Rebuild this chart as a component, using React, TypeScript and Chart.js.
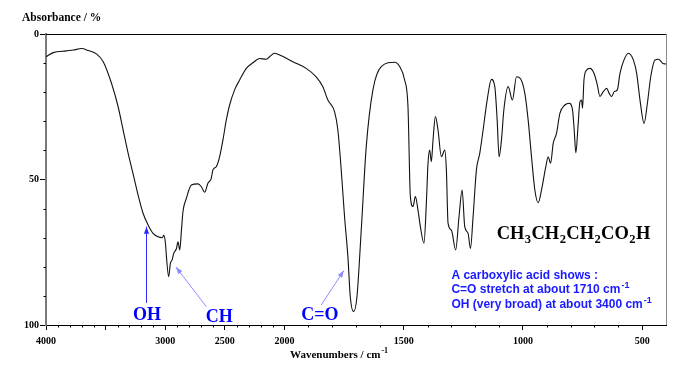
import React, { useEffect, useRef } from 'react';
import { Chart, LinearScale, registerables } from 'chart.js';

// ---------- data ----------
const WAVENUMBERS = [
  4000, 3940, 3830, 3770, 3700, 3645, 3575, 3520, 3450, 3395, 3353, 3311, 3270, 3228, 3186, 3144,
  3102, 3060, 3025, 3012, 2998, 2990, 2971, 2957, 2943, 2929, 2906, 2893, 2878, 2864, 2851, 2823,
  2781, 2725, 2697, 2669, 2642, 2614, 2600, 2572, 2544, 2516, 2488, 2460, 2418, 2376, 2320, 2265,
  2209, 2153, 2125, 2083, 2041, 2021, 1965, 1909, 1867, 1839, 1818, 1790, 1776, 1762, 1748, 1734,
  1724, 1710, 1696, 1678, 1657, 1629, 1594, 1538, 1517, 1496, 1482, 1472, 1461, 1451, 1440, 1430,
  1415, 1405, 1398, 1391, 1384, 1377, 1367, 1356, 1342, 1328, 1321, 1314, 1300, 1282, 1268, 1255,
  1244, 1230, 1220, 1209, 1195, 1181, 1167, 1150, 1132, 1118, 1108, 1100, 1090, 1080, 1062, 1044,
  1027, 1010, 992, 978, 964, 950, 936, 922, 904, 894, 884, 873, 859, 845, 824, 806,
  792, 785, 778, 769, 761, 754, 750, 744, 733, 719, 702, 688, 677, 663, 649, 638,
  628, 617, 604, 593, 576, 558, 537, 523, 509, 492, 478, 464, 446, 432, 413, 400,
];
const ABSORBANCE = [
  7.8, 6.4, 5.8, 5.5, 5.0, 5.7, 6.9, 9.5, 17, 25, 33, 41, 48, 55.3, 61.6, 65.6,
  68.5, 69.7, 70.0, 69.2, 72, 76.5, 83.4, 78.8, 77.7, 75.4, 73.7, 71.4, 74.2, 67.4, 61, 56.5,
  51.9, 51.5, 52.5, 54.4, 51.3, 49.6, 46.7, 45.6, 42.2, 36.4, 29.6, 24.4, 19.2, 15.8, 11.8, 9.9,
  8.4, 8.7, 7.8, 6.6, 7.2, 7.6, 9.5, 11.8, 14.7, 18.1, 22.7, 26.7, 33, 46.7, 62.8, 76.5,
  90.3, 95.4, 90.3, 67.4, 38.7, 19.2, 11.2, 9.7, 11.2, 15.8, 25, 55.9, 59.3, 55.9, 60.5, 66.2,
  71.9, 58.2, 44.4, 39.9, 43.9, 36.4, 28.4, 33, 42.2, 39.9, 46.7, 65, 67.4, 74.2, 62.8, 53.6,
  66.2, 68.5, 73.7, 62.8, 46.7, 41, 33, 22.7, 15.6, 18.1, 29.6, 42.2, 36.4, 26.1, 18.1, 22.7,
  14.7, 15.4, 20.4, 29.6, 42.2, 53.6, 58, 53.6, 45.6, 42.2, 44.4, 37.6, 34.1, 27.3, 24.4, 23.8,
  26.1, 33, 40.8, 31.8, 23.3, 22.7, 25.5, 15.8, 12.4, 11.8, 13.5, 17.5, 21.5, 19.8, 18.7, 20.4,
  21.5, 19.8, 19.2, 13.5, 8.9, 6.6, 8.9, 13.5, 22.7, 30.7, 23.8, 14.7, 8.9, 8.7, 10.1, 10.3,
];

const X_MAJOR_TICKS = [4000, 3500, 3000, 2500, 2000, 1500, 1000, 500];
const X_TICK_LABELS = [4000, 3000, 2500, 2000, 1500, 1000, 500];
const Y_TICK_LABELS = [0, 50, 100];

const W_MAX = 4000;
const W_MIN = 400;
const W_BREAK = 2000; // scale doubles below 2000 cm-1

// ---------- broken (two-scale) wavenumber axis ----------
const SPAN = (W_MAX - W_BREAK) / 2 + (W_BREAK - W_MIN);
function warp(w: number) {
  const t = w >= W_BREAK ? (W_MAX - w) / 2 : (W_MAX - W_BREAK) / 2 + (W_BREAK - w);
  return t / SPAN;
}
function unwarp(f: number) {
  const t = f * SPAN;
  const tb = (W_MAX - W_BREAK) / 2;
  return t <= tb ? W_MAX - 2 * t : W_BREAK - (t - tb);
}

class WavenumberScale extends LinearScale {
  static id = 'wavenumber';
  static defaults = {};
  buildTicks() {
    return X_MAJOR_TICKS.map((v) => ({ value: v }));
  }
  getPixelForValue(value: number) {
    return this.left + warp(value) * this.width;
  }
  getValueForPixel(pixel: number) {
    return unwarp((pixel - this.left) / this.width);
  }
}

Chart.register(...registerables, WavenumberScale);

// ---------- annotations (in data coordinates) ----------
const ARROWS = [
  { from: [3157, 92.4], to: [3157, 66.2], color: '#2a2aff' },
  { from: [2655, 93.7], to: [2910, 80.1], color: '#8c8cff' },
  { from: [1846, 93.1], to: [1751, 81.3], color: '#8c8cff' },
];
const PEAK_LABELS = [
  { text: 'OH', at: [3153, 98.3] },
  { text: 'CH', at: [2546, 98.9] },
  { text: 'C=O', at: [1851, 98.3] },
];
const FORMULA: [string, boolean][] = [
  ['CH', false], ['3', true], ['CH', false], ['2', true], ['CH', false], ['2', true],
  ['CO', false], ['2', true], ['H', false],
];
const FORMULA_AT = [1110, 70.5];
const NOTE_LINES: [string, string][] = [
  ['A carboxylic acid shows :', ''],
  ['C=O stretch at about 1710 cm', '-1'],
  ['OH (very broad) at about 3400 cm', '-1'],
];
const NOTE_AT = [1300, 84.1];
const NOTE_STEP = 5.0;

const SERIF = '"Liberation Serif", "Times New Roman", serif';
const SANS = '"Liberation Sans", Arial, sans-serif';

const decorPlugin = {
  id: 'decor',
  afterDraw(chart: any) {
    const { ctx, chartArea } = chart;
    const xs = chart.scales.x;
    const ys = chart.scales.y;
    const px = (w: number) => xs.getPixelForValue(w);
    const py = (a: number) => ys.getPixelForValue(a);
    ctx.save();

    // frame: top (black) and right (grey)
    ctx.lineWidth = 1;
    ctx.strokeStyle = '#000';
    ctx.beginPath();
    ctx.moveTo(chartArea.left, chartArea.top + 0.5);
    ctx.lineTo(chartArea.right, chartArea.top + 0.5);
    ctx.stroke();
    ctx.strokeStyle = '#8a8a8a';
    ctx.beginPath();
    ctx.moveTo(chartArea.right + 0.5, chartArea.top);
    ctx.lineTo(chartArea.right + 0.5, chartArea.bottom);
    ctx.stroke();

    // minor ticks
    ctx.strokeStyle = '#000';
    ctx.beginPath();
    for (let w = W_MAX - 100; w > W_MIN; w -= 100) {
      if (w % 500 === 0) continue;
      const x = Math.round(px(w)) + 0.5;
      ctx.moveTo(x, chartArea.bottom);
      ctx.lineTo(x, chartArea.bottom + 2.5);
    }
    for (let a = 10; a < 100; a += 10) {
      if (a % 50 === 0) continue;
      const y = Math.round(py(a)) + 0.5;
      ctx.moveTo(chartArea.left - 2.5, y);
      ctx.lineTo(chartArea.left, y);
    }
    ctx.stroke();

    // axis titles
    ctx.fillStyle = '#000';
    ctx.textBaseline = 'alphabetic';
    ctx.textAlign = 'left';
    ctx.font = `bold 11.5px ${SERIF}`;
    ctx.fillText('Absorbance / %', 22, 21);
    ctx.font = `bold 11px ${SERIF}`;
    const xt = 'Wavenumbers / cm';
    ctx.fillText(xt, 290, 358);
    const xtw = ctx.measureText(xt).width;
    ctx.font = `bold 8px ${SERIF}`;
    ctx.fillText('-1', 290 + xtw + 1, 353);

    // arrows
    for (const ar of ARROWS) {
      const x1 = px(ar.from[0]), y1 = py(ar.from[1]);
      const x2 = px(ar.to[0]), y2 = py(ar.to[1]);
      ctx.strokeStyle = ar.color;
      ctx.fillStyle = ar.color;
      ctx.lineWidth = 1;
      ctx.beginPath();
      ctx.moveTo(x1, y1);
      ctx.lineTo(x2, y2);
      ctx.stroke();
      const ang = Math.atan2(y2 - y1, x2 - x1);
      const L = 7, Wd = 2.6;
      ctx.beginPath();
      ctx.moveTo(x2, y2);
      ctx.lineTo(x2 - L * Math.cos(ang) + Wd * Math.sin(ang), y2 - L * Math.sin(ang) - Wd * Math.cos(ang));
      ctx.lineTo(x2 - L * Math.cos(ang) - Wd * Math.sin(ang), y2 - L * Math.sin(ang) + Wd * Math.cos(ang));
      ctx.closePath();
      ctx.fill();
    }

    // peak labels
    ctx.fillStyle = '#0000ff';
    ctx.font = `bold 18px ${SERIF}`;
    ctx.textAlign = 'center';
    ctx.textBaseline = 'alphabetic';
    for (const lb of PEAK_LABELS) {
      ctx.fillText(lb.text, px(lb.at[0]), py(lb.at[1]));
    }

    // formula
    ctx.fillStyle = '#000';
    ctx.textAlign = 'left';
    let fx = px(FORMULA_AT[0]);
    const fy = py(FORMULA_AT[1]);
    for (const [s, sub] of FORMULA) {
      ctx.font = sub ? `bold 12.5px ${SERIF}` : `bold 18.5px ${SERIF}`;
      ctx.fillText(s, fx, sub ? fy + 3.5 : fy);
      fx += ctx.measureText(s).width + 0.4;
    }

    // note
    ctx.fillStyle = '#1a1aff';
    NOTE_LINES.forEach(([s, sup], i) => {
      const nx = px(NOTE_AT[0]);
      const ny = py(NOTE_AT[1] + i * NOTE_STEP);
      ctx.font = `bold 12px ${SANS}`;
      ctx.fillText(s, nx, ny);
      if (sup) {
        const w = ctx.measureText(s).width;
        ctx.font = `bold 9px ${SANS}`;
        ctx.fillText(sup, nx + w + 1, ny - 5);
      }
    });

    ctx.restore();
  },
};

export default function App() {
  const canvasRef = useRef<HTMLCanvasElement | null>(null);

  useEffect(() => {
    const canvas = canvasRef.current;
    if (!canvas) return;
    const points = WAVENUMBERS.map((w, i) => ({ x: w, y: ABSORBANCE[i] }));
    const tickFont = { family: SERIF, size: 10, weight: 'bold' as const };
    const chart = new Chart(canvas, {
      type: 'line',
      data: {
        datasets: [
          {
            data: points,
            borderColor: '#111',
            borderWidth: 1.1,
            pointRadius: 0,
            fill: false,
            cubicInterpolationMode: 'monotone',
          },
        ],
      },
      options: {
        animation: false,
        responsive: false,
        devicePixelRatio: 1,
        layout: { padding: { top: 34, right: 21, left: 0, bottom: 0 } },
        plugins: { legend: { display: false }, tooltip: { enabled: false } },
        events: [],
        scales: {
          x: {
            type: 'wavenumber' as any,
            min: W_MIN,
            max: W_MAX,
            afterFit: (s: any) => {
              s.height = 57;
            },
            border: { display: true, color: '#000', width: 1 },
            grid: {
              display: true,
              drawOnChartArea: false,
              drawTicks: true,
              tickLength: 5,
              tickColor: '#000',
              tickWidth: 1,
            },
            ticks: {
              autoSkip: false,
              maxRotation: 0,
              padding: 5,
              color: '#000',
              font: tickFont,
              callback: (v: any) => (X_TICK_LABELS.includes(Number(v)) ? String(v) : ''),
            },
          } as any,
          y: {
            type: 'linear',
            min: 0,
            max: 100,
            reverse: true,
            afterFit: (s: any) => {
              s.width = 46;
            },
            border: { display: true, color: '#7a7a7a', width: 2 },
            grid: {
              display: true,
              drawOnChartArea: false,
              drawTicks: true,
              tickLength: 6,
              tickWidth: 1,
              tickColor: (c: any) =>
                c.tick && Y_TICK_LABELS.includes(c.tick.value) ? '#000' : 'rgba(0,0,0,0)',
            },
            ticks: {
              stepSize: 10,
              autoSkip: false,
              padding: 1,
              color: '#000',
              font: tickFont,
              callback: (v: any) => (Y_TICK_LABELS.includes(Number(v)) ? String(v) : ''),
            },
          },
        },
      },
      plugins: [decorPlugin],
    });
    return () => chart.destroy();
  }, []);

  return (
    <div style={{ position: 'fixed', left: 0, top: 0, width: 687, height: 382, background: '#fff' }}>
      <canvas ref={canvasRef} width={687} height={382} style={{ width: 687, height: 382 }} />
    </div>
  );
}
